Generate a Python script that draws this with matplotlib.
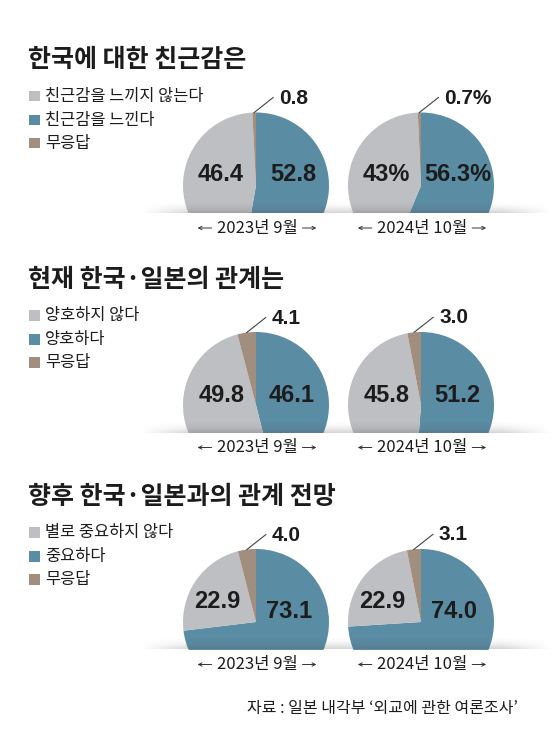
import numpy as np
import matplotlib.pyplot as plt
from matplotlib.patches import Polygon

# Survey data: [not positive, positive, no answer]
titles = ['한국에 대한 친근감은', '현재 한국·일본의 관계는', '향후 한국·일본과의 관계 전망']
legend_labels = [
    ['친근감을 느끼지 않는다', '친근감을 느낀다', '무응답'],
    ['양호하지 않다', '양호하다', '무응답'],
    ['별로 중요하지 않다', '중요하다', '무응답'],
]
periods = ['2023년 9월', '2024년 10월']
affinity = [[46.4, 52.8, 0.8], [43.0, 56.3, 0.7]]
relation_now = [[49.8, 46.1, 4.1], [45.8, 51.2, 3.0]]
relation_future = [[22.9, 73.1, 4.0], [22.9, 74.0, 3.1]]
source = "자료 : 일본 내각부 ‘외교에 관한 여론조사’"

sections = [affinity, relation_now, relation_future]
pct_sign = [[False, True], [False, False], [False, False]]

GRAY, BLUE, BROWN = '#bdbfc2', '#5a8ca4', '#a28e7f'
TXT = '#1c1c1c'
KR = ['Noto Sans CJK KR', 'DejaVu Sans']
NUM = ['Liberation Sans', 'Noto Sans CJK KR']

W, H = 559, 748
fig = plt.figure(figsize=(W / 100, H / 100), dpi=100)
ax = fig.add_axes([0, 0, 1, 1])

offsets = [0, 219.5, 436.5]
centers_x = [256, 421]
R = 73
# where the two inner numbers sit relative to the pie centre
inner_pos = [[(-35, -11), (37, -11)], [(-34, -10), (36, -10)], [(-39, -21), (33, -11)]]


def fmt(v, pct):
    if pct:
        return f'{v:g}%'
    return f'{v:.1f}'


def shadow(y):
    h = 13
    xs = np.linspace(0, 1, 300)
    fade = np.clip(np.minimum(xs / 0.12, (1 - xs) / 0.12), 0, 1)
    ys = np.linspace(0, 1, 30)[:, None]
    img = np.zeros((30, 300, 4))
    img[..., :3] = 0.3
    img[..., 3] = 0.24 * ys ** 2 * fade[None, :]
    ax.imshow(img, extent=(140, 552, y, y - h), aspect='auto', zorder=3,
              interpolation='bilinear')


date_texts = []
for s, data in enumerate(sections):
    off = offsets[s]
    ax.text(28, 60 + off, titles[s], fontsize=18, fontweight='bold',
            family=KR, color=TXT, va='center', ha='left')
    rows = [96 + off, 120 + off, 143 + off]
    ax.scatter([34.5] * 3, rows, marker='s', s=60, c=[GRAY, BLUE, BROWN],
               linewidths=0, zorder=4)
    for ry, lab in zip(rows, legend_labels[s]):
        ax.text(45, ry, lab, fontsize=11.8, family=KR, color=TXT,
                va='center', ha='left')

    cy = 185.5 + off
    clip_y = 213 + off
    for p, (neg, pos, na) in enumerate(data):
        cx = centers_x[p]
        wedges, _ = ax.pie([pos, neg, na], colors=[BLUE, GRAY, BROWN],
                           startangle=-90, counterclock=True,
                           center=(cx, cy), radius=R,
                           wedgeprops=dict(linewidth=0))
        # flat bottom: cut the pie at the baseline
        clip = Polygon([(cx - R - 2, cy - R - 2), (cx + R + 2, cy - R - 2),
                        (cx + R + 2, clip_y), (cx - R - 2, clip_y)],
                       closed=True, transform=ax.transData)
        for w in wedges:
            w.set_clip_on(True)
            w.set_clip_path(clip)

        pct = pct_sign[s][p]
        (gdx, gdy), (bdx, bdy) = inner_pos[s]
        ax.text(cx + gdx, cy + gdy, fmt(neg, pct), fontsize=17, fontweight='bold',
                family=NUM, color=TXT, ha='center', va='center', zorder=5)
        ax.text(cx + bdx, cy + bdy, fmt(pos, pct), fontsize=17, fontweight='bold',
                family=NUM, color=TXT, ha='center', va='center', zorder=5)

        # leader line for the small "no answer" slice
        b = wedges[2]
        tm = np.radians((b.theta1 + b.theta2) / 2)
        sx, sy = cx + R * np.cos(tm), cy + R * np.sin(tm)
        ex, ey = sx + 19, sy - 15
        ax.plot([sx, ex], [sy, ey], color='#444444', lw=0.8, zorder=5)
        ax.text(ex + 6, ey + 0.5, fmt(na, pct), fontsize=15, fontweight='bold',
                family=NUM, color=TXT, ha='left', va='center', zorder=5)

        t = ax.text(cx + 1, 228 + off, periods[p], fontsize=12, family=KR,
                    color=TXT, ha='center', va='center')
        date_texts.append((t, 228 + off))

    shadow(clip_y)

ax.text(518, 708, source, fontsize=11.5, family=KR, color=TXT,
        ha='right', va='center')

ax.set_xlim(0, W)
ax.set_ylim(H, 0)
ax.axis('off')

# small arrows either side of the survey dates
fig.canvas.draw()
renderer = fig.canvas.get_renderer()
inv = ax.transData.inverted()
for t, y in date_texts:
    bb = t.get_window_extent(renderer)
    (x0, _), (x1, _) = inv.transform([(bb.x0, bb.y0), (bb.x1, bb.y1)])
    arrow = dict(arrowstyle='->', color='#333333', lw=0.7,
                 shrinkA=0, shrinkB=0, mutation_scale=6)
    ax.annotate('', xy=(x0 - 19, y), xytext=(x0 - 5, y), arrowprops=arrow)
    ax.annotate('', xy=(x1 + 19, y), xytext=(x1 + 5, y), arrowprops=arrow)

fig.savefig('out.png', dpi=100)
